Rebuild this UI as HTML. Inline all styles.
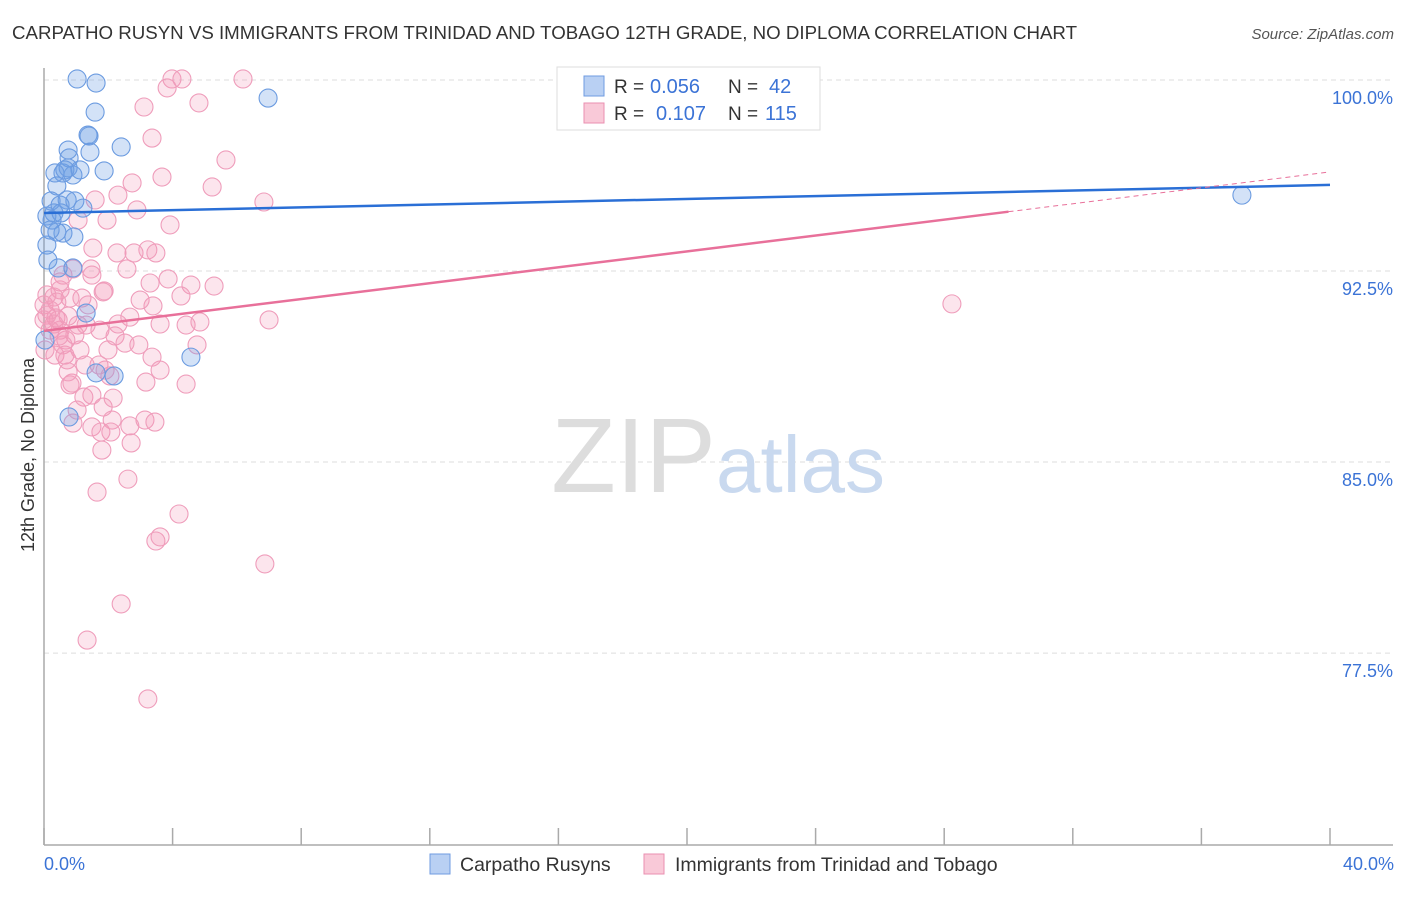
<!DOCTYPE html>
<html><head><meta charset="utf-8"><style>
body{margin:0;background:#fff;font-family:"Liberation Sans",sans-serif;}
svg text{font-family:"Liberation Sans",sans-serif;}
</style></head><body>
<svg width="1406" height="892">
<text x="12" y="39" font-size="18.7" fill="#333">CARPATHO RUSYN VS IMMIGRANTS FROM TRINIDAD AND TOBAGO 12TH GRADE, NO DIPLOMA CORRELATION CHART</text>
<text x="1394" y="39" font-size="15" fill="#555" font-style="italic" text-anchor="end">Source: ZipAtlas.com</text>
<g id="grid"></g>
<text x="716" y="492" font-size="106" fill="#ddd" font-family="Liberation Serif" text-anchor="end">ZIP</text>
<text x="716" y="492" font-size="80" fill="#c9d9ef">atlas</text>
<g id="pts"></g>
<g id="lines"></g>
<text transform="translate(34,455) rotate(-90)" font-size="18" fill="#333" text-anchor="middle">12th Grade, No Diploma</text>
<text x="44" y="870" font-size="18" fill="#3b73d6">0.0%</text>
<text x="1394" y="870" font-size="18" fill="#3b73d6" text-anchor="end">40.0%</text>
<g>
<rect x="557" y="67" width="263" height="63" fill="#fff" stroke="#ddd"/>
<rect x="584" y="76" width="20" height="20" fill="#b9d0f3" stroke="#6f9be0"/>
<rect x="584" y="103" width="20" height="20" fill="#f9c9d8" stroke="#ea8fb0"/>
<text x="614" y="93" font-size="19" fill="#333">R =</text>
<text x="650" y="93" font-size="20" fill="#3b73d6">0.056</text>
<text x="728" y="93" font-size="19" fill="#333">N =</text>
<text x="769" y="93" font-size="20" fill="#3b73d6">42</text>
<text x="614" y="120" font-size="19" fill="#333">R =</text>
<text x="656" y="120" font-size="20" fill="#3b73d6">0.107</text>
<text x="728" y="120" font-size="19" fill="#333">N =</text>
<text x="765" y="120" font-size="20" fill="#3b73d6">115</text>
</g>
<g>
<rect x="430" y="854" width="20" height="20" fill="#b9d0f3" stroke="#6f9be0"/>
<text x="460" y="871" font-size="19.5" fill="#333">Carpatho Rusyns</text>
<rect x="644" y="854" width="20" height="20" fill="#f9c9d8" stroke="#ea8fb0"/>
<text x="675" y="871" font-size="19.5" fill="#333">Immigrants from Trinidad and Tobago</text>
</g>
</svg>
<script>
const yTicks=[100,92.5,85,77.5];
const yTickLabels=["100.0%","92.5%","85.0%","77.5%"];
const xTicks=[0,4,8,12,16,20,24,28,32,36,40];
const blueX=[1.03,1.62,1.59,6.97,1.37,1.40,1.43,2.40,0.78,1.87,0.59,0.34,0.40,0.90,0.75,0.72,0.96,0.22,0.31,0.09,0.53,0.59,0.93,0.40,0.09,0.44,0.90,1.31,4.57,1.62,2.18,0.78,37.26,0.25,0.19,0.50,0.65,1.12,0.12,0.75,0.03,1.21];
const blueY=[100.04,99.88,98.74,99.29,97.84,97.80,97.17,97.37,96.94,96.43,96.35,96.35,95.84,96.27,96.55,95.29,95.25,95.25,94.78,94.66,94.78,93.99,93.84,94.03,93.52,92.62,92.62,90.85,89.12,88.50,88.38,86.77,95.48,94.50,94.11,95.09,96.47,96.47,92.93,97.25,89.79,94.97];
const pinkX=[3.98,4.29,3.83,6.19,4.82,3.11,3.36,5.66,3.67,5.23,6.84,2.30,2.74,1.59,1.06,2.89,3.92,1.96,1.52,2.80,3.23,3.48,2.27,2.58,1.46,0.90,0.59,0.50,0.31,0.09,0.0,0.37,0.75,1.18,1.49,1.84,1.87,2.67,2.30,3.61,4.42,4.57,4.26,3.30,5.29,3.86,7.00,3.39,4.76,2.95,3.36,3.61,1.90,1.71,1.28,2.05,4.42,3.17,0.81,0.87,1.24,1.84,2.15,3.14,3.45,2.12,1.49,0.90,1.03,1.77,2.08,2.67,1.80,2.71,1.65,2.61,4.20,3.48,3.61,6.87,2.40,1.34,3.23,28.24,0.50,0.19,0.44,0.68,0.96,1.74,1.06,0.34,0.65,2.21,0.81,0.03,0.50,1.37,0.09,0.59,1.99,0.19,0.31,0.40,1.49,1.12,0.72,0.0,2.52,1.31,0.75,0.47,2.99,4.85];
const pinkY=[100.04,100.04,99.69,100.04,99.10,98.94,97.72,96.86,96.19,95.80,95.21,95.48,95.96,95.29,94.50,94.90,94.31,94.50,93.40,93.21,93.33,93.21,93.21,92.58,92.58,92.58,92.34,92.07,91.48,91.56,91.17,90.66,90.73,91.44,92.34,91.68,91.72,90.69,90.42,90.42,90.38,91.95,91.52,92.03,91.91,92.19,90.58,91.13,89.60,89.60,89.12,88.61,88.61,88.81,88.81,88.38,88.06,88.14,88.03,88.10,87.55,87.16,87.51,86.65,86.57,86.65,86.38,86.53,87.04,86.18,86.18,86.42,85.47,85.75,83.82,84.33,82.96,81.90,82.06,81.00,79.43,78.01,75.70,91.21,90.18,90.18,90.58,89.79,89.99,90.18,90.38,89.20,89.20,89.95,91.44,89.40,91.76,91.17,90.77,89.60,89.40,90.97,90.42,91.28,87.63,89.40,89.01,90.58,89.67,90.38,88.54,89.95,91.36,90.50];
const blueTrend=[94.78,95.88];
const pinkTrend=[90.15,96.39];
const pinkSolidEnd=30;
const NS="http://www.w3.org/2000/svg";
function sx(v){return 44+v*(1286/40);}
function sy(v){return 80+(100-v)*25.47;}
function mk(tag,attrs,parent){const e=document.createElementNS(NS,tag);for(const k in attrs)e.setAttribute(k,attrs[k]);parent.appendChild(e);return e;}
const grid=document.getElementById('grid');
yTicks.forEach((t,i)=>{
  const l=mk('line',{x1:44,x2:1393,y1:sy(t),y2:sy(t),stroke:'#ddd','stroke-dasharray':'5,4'},grid);
  
  
  const tx=mk('text',{x:1393,y:sy(t)+24,'font-size':18,fill:'#3b73d6','text-anchor':'end'},grid);
  tx.textContent=yTickLabels[i];
  
  
});
const ax=mk('line',{x1:44,x2:44,y1:68,y2:845,stroke:'#aaa','stroke-width':1.5},grid);


const bx=mk('line',{x1:44,x2:1393,y1:845,y2:845,stroke:'#aaa','stroke-width':1.5},grid);


xTicks.forEach(t=>{
  const l=mk('line',{x1:sx(t),x2:sx(t),y1:828,y2:845,stroke:'#aaa','stroke-width':1.5},grid);
  
  
});
const pts=document.getElementById('pts');
pinkX.forEach((x,i)=>{
  const c=mk('circle',{cx:sx(x),cy:sy(pinkY[i]),r:9,fill:'rgba(244,150,182,0.25)',stroke:'#ef9dbb','stroke-width':1.1},pts);
  
  
});
blueX.forEach((x,i)=>{
  const c=mk('circle',{cx:sx(x),cy:sy(blueY[i]),r:9,fill:'rgba(110,160,230,0.3)',stroke:'#6b9be0','stroke-width':1.1},pts);
  
  
});
const lines=document.getElementById('lines');
const bl=mk('line',{x1:sx(0),y1:sy(blueTrend[0]),x2:sx(40),y2:sy(blueTrend[1]),stroke:'#2a6fd6','stroke-width':2.5},lines);


const pm=pinkTrend[0]+(pinkTrend[1]-pinkTrend[0])*pinkSolidEnd/40;
const pl=mk('line',{x1:sx(0),y1:sy(pinkTrend[0]),x2:sx(pinkSolidEnd),y2:sy(pm),stroke:'#e8709a','stroke-width':2.5},lines);


const pd=mk('line',{x1:sx(pinkSolidEnd),y1:sy(pm),x2:sx(40),y2:sy(pinkTrend[1]),stroke:'#e8709a','stroke-width':1,'stroke-dasharray':'5,4'},lines);


</script>
</body></html>
